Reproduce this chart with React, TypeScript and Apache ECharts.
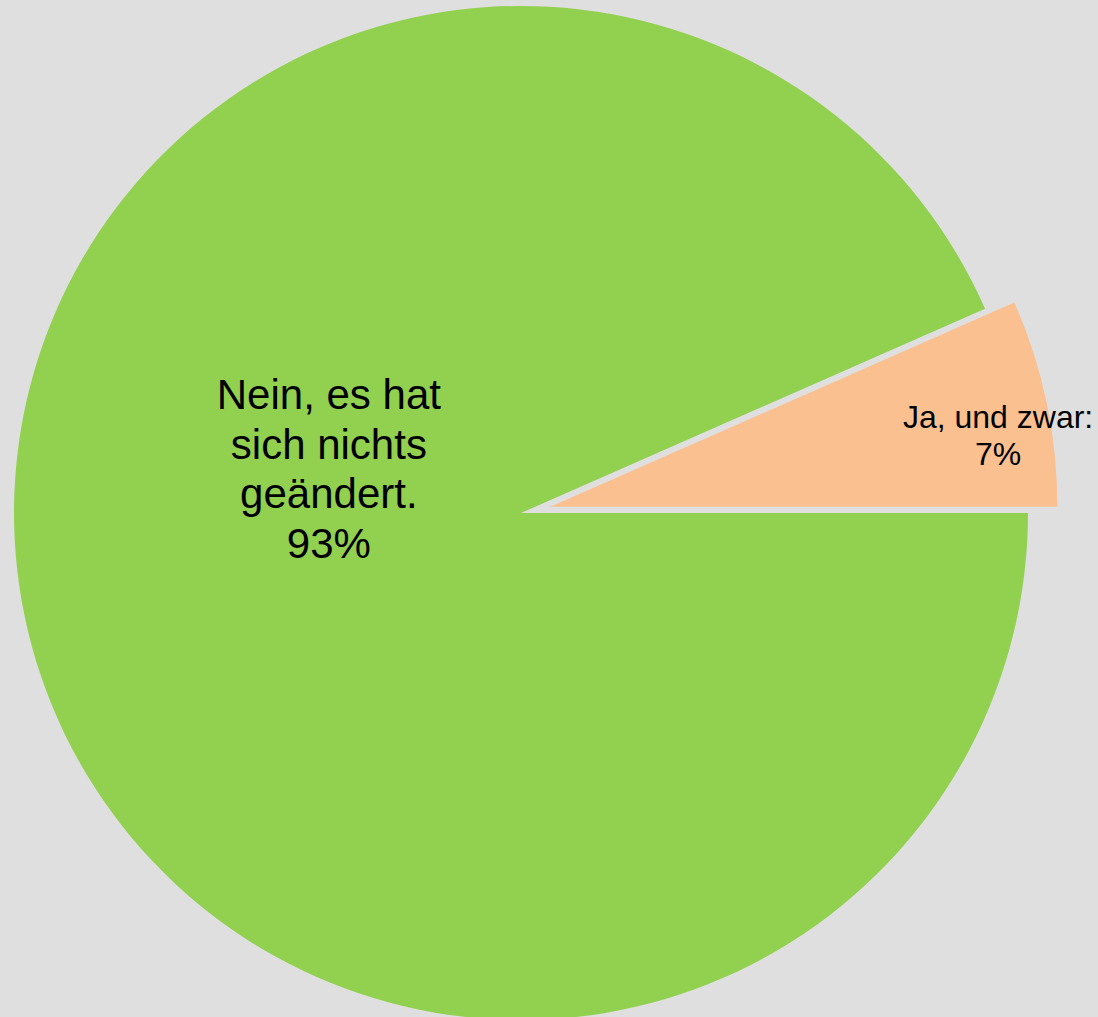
import React, { useEffect, useRef } from "react";
import * as echarts from "echarts";

// Data
const categories = ["Ja, und zwar:", "Nein, es hat sich nichts geändert."];
const labelTexts = ["Ja, und zwar:", "Nein, es hat\nsich nichts\ngeändert."];
const values = [6.6, 93.4];

// Styles / layout
const colors = ["#FAC090", "#92D050"];
const labelFontSizes = [32, 42];
const labelLineHeights = [37, 49.5];
const explodedIndex = 0;
const explodeOffset = 30;
// label centre relative to pie centre, as fraction of radius
const labelOffsets: [number, number][] = [
  [0.941, -0.153],
  [-0.379, -0.087],
];

export default function App() {
  const ref = useRef<HTMLDivElement>(null);
  useEffect(() => {
    document.body.style.margin = "0";
    const chart = echarts.init(ref.current!, null, { renderer: "svg" });
    const total = values.reduce((a, b) => a + b, 0);
    const cx = 521;
    const cy = 513;
    const R = 507;
    const startAngle = (360 * values[0]) / total;
    // mid angle of exploded slice (degrees, counter-clockwise from east)
    let acc = 0;
    for (let i = 0; i < explodedIndex; i++) acc += values[i];
    const midDeg = startAngle - (360 * (acc + values[explodedIndex] / 2)) / total;
    const mid = (midDeg * Math.PI) / 180;
    const ex = explodeOffset * Math.cos(mid);
    const ey = -explodeOffset * Math.sin(mid);

    const makeSeries = (exploded: boolean) => ({
      type: "pie",
      center: exploded ? [cx + ex, cy + ey] : [cx, cy],
      radius: [0, R],
      startAngle,
      clockwise: true,
      percentPrecision: 0,
      avoidLabelOverlap: false,
      silent: true,
      emphasis: { disabled: true },
      labelLine: { show: false },
      data: categories.map((c, i) => {
        const visible = (i === explodedIndex) === exploded;
        return {
          name: c,
          value: values[i],
          itemStyle: {
            color: visible ? colors[i] : "rgba(0,0,0,0)",
            borderWidth: 0,
          },
          label: {
            show: visible,
            fontSize: labelFontSizes[i],
            lineHeight: labelLineHeights[i],
          },
        };
      }),
      label: {
        show: true,
        position: "inside",
        color: "#000000",
        fontFamily: "Arial, 'Liberation Sans', sans-serif",
        align: "center",
        verticalAlign: "middle",
        formatter: (p: any) => `${labelTexts[p.dataIndex]}\n${p.percent}%`,
      },
      labelLayout: (params: any) => {
        const o = labelOffsets[params.dataIndex];
        return {
          x: cx + o[0] * R,
          y: cy + o[1] * R,
          align: "center",
          verticalAlign: "middle",
        };
      },
    });

    chart.setOption({
      animation: false,
      backgroundColor: "#dfdfdf",
      series: [makeSeries(false), makeSeries(true)],
    });
    return () => chart.dispose();
  }, []);
  return (
    <div
      ref={ref}
      style={{ position: "absolute", left: 0, top: 0, width: 1098, height: 1017 }}
    />
  );
}
